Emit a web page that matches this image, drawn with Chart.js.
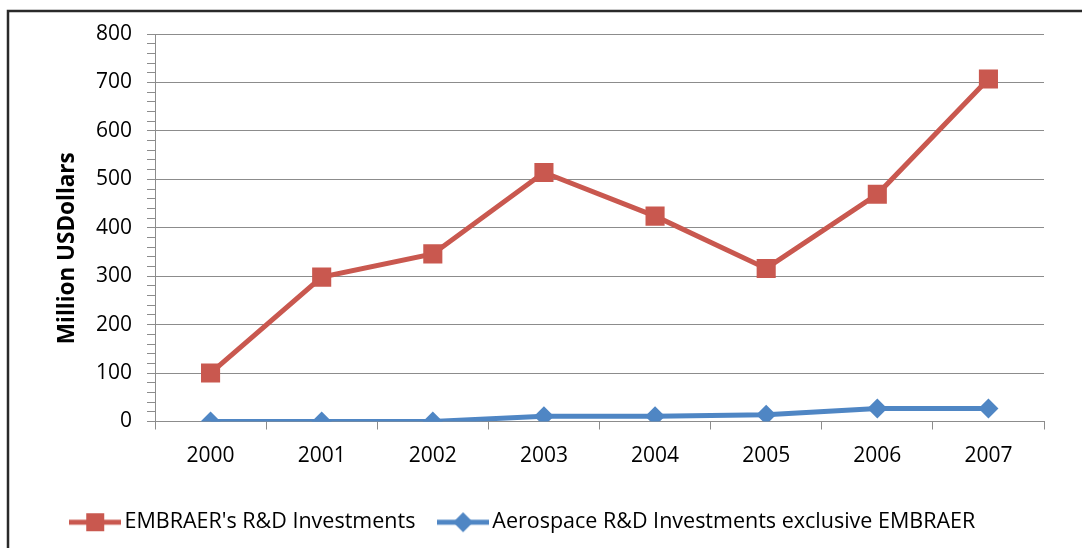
<!DOCTYPE html>
<html>
<head>
<meta charset="utf-8">
<script src="https://cdn.jsdelivr.net/npm/chart.js@4/dist/chart.umd.min.js"></script>
<style>
  html, body { margin: 0; padding: 0; background: #fff; }
  #wrap { width: 1082px; height: 548px; position: relative; }
</style>
</head>
<body>
<div id="wrap"><canvas id="rdChart"></canvas></div>
<script>
// values
const years = ['2000', '2001', '2002', '2003', '2004', '2005', '2006', '2007'];
const embraerRD = [100, 298, 346, 514, 424, 316, 469, 707];
const aerospaceRD = [0, 0, 0, 11, 11, 14, 27, 27];
const seriesNames = ["EMBRAER's R&D Investments", 'Aerospace R&D Investments exclusive EMBRAER'];
const yTitle = 'Million USDollars';

const red = '#C9584F';
const blue = '#4F86C4';
const gridGray = '#8c8c8c';
const fontFamily = "'Open Sans', sans-serif";

// little line + marker pictures for the legend, like the Excel ones
function legendMark(color, shape) {
  const c = document.createElement('canvas');
  c.width = 52;
  c.height = 22;
  const g = c.getContext('2d');
  g.strokeStyle = color;
  g.lineWidth = 5;
  g.beginPath();
  g.moveTo(0, 11);
  g.lineTo(52, 11);
  g.stroke();
  g.fillStyle = color;
  if (shape === 'rect') {
    g.fillRect(17, 2, 18, 18);
  } else {
    g.beginPath();
    g.moveTo(26, 1);
    g.lineTo(36, 11);
    g.lineTo(26, 21);
    g.lineTo(16, 11);
    g.closePath();
    g.fill();
  }
  return c;
}
const legendMarks = [legendMark(red, 'rect'), legendMark(blue, 'diamond')];

// white background plus the cut-off frame on the left and top
const framePlugin = {
  id: 'frame',
  beforeDraw(chart) {
    const ctx = chart.ctx;
    ctx.save();
    ctx.fillStyle = '#fff';
    ctx.fillRect(0, 0, chart.width, chart.height);
    ctx.strokeStyle = '#2a2a2a';
    ctx.lineWidth = 2.5;
    ctx.beginPath();
    ctx.moveTo(8, chart.height);
    ctx.lineTo(8, 11);
    ctx.lineTo(chart.width, 11);
    ctx.stroke();
    ctx.restore();
  }
};

const ctx = document.getElementById('rdChart').getContext('2d');
new Chart(ctx, {
  type: 'line',
  data: {
    labels: years,
    datasets: [
      {
        label: seriesNames[0],
        data: embraerRD,
        borderColor: red,
        backgroundColor: red,
        borderWidth: 5,
        pointStyle: 'rect',
        pointRadius: 13.5,
        pointHoverRadius: 13.5,
        pointBorderWidth: 0,
        tension: 0,
      },
      {
        label: seriesNames[1],
        data: aerospaceRD,
        borderColor: blue,
        backgroundColor: blue,
        borderWidth: 5,
        pointStyle: 'rectRot',
        pointRadius: 10,
        pointHoverRadius: 10,
        pointBorderWidth: 0,
        tension: 0,
      },
    ],
  },
  options: {
    responsive: true,
    maintainAspectRatio: false,
    animation: false,
    devicePixelRatio: 1,
    layout: {
      padding: { left: 8, right: 38, top: 34, bottom: 5 },
    },
    plugins: {
      tooltip: { enabled: false },
      legend: {
        position: 'bottom',
        labels: {
          color: '#000',
          font: { family: fontFamily, size: 21.5 },
          usePointStyle: true,
          pointStyleWidth: 37,
          padding: 18,
          generateLabels(chart) {
            const items = Chart.defaults.plugins.legend.labels.generateLabels(chart);
            items.forEach(function (item, i) {
              item.pointStyle = legendMarks[i];
            });
            // a bit more room between the two entries
            items[0].text = items[0].text + '  ';
            return items;
          },
        },
      },
    },
    scales: {
      x: {
        offset: true,
        grid: {
          offset: true,
          drawOnChartArea: false,
          color: gridGray,
          tickLength: 8,
        },
        border: { color: gridGray, width: 1 },
        ticks: {
          color: '#000',
          font: { family: fontFamily, size: 21 },
          padding: 14,
          maxRotation: 0,
        },
        afterFit(scale) {
          scale.height = 72;
        },
      },
      y: {
        min: 0,
        max: 800,
        grid: {
          color: (c) => (c.tick && c.tick.value % 100 === 0 ? gridGray : 'rgba(0,0,0,0)'),
          tickColor: gridGray,
          tickLength: 8,
        },
        border: { color: gridGray, width: 1 },
        ticks: {
          stepSize: 20,
          autoSkip: false,
          color: '#000',
          font: { family: fontFamily, size: 21 },
          padding: 15,
          callback: (v) => (v % 100 === 0 ? v : ''),
        },
        title: {
          display: true,
          // trailing spaces push the title a little down, as in the original
          text: yTitle + '       ',
          color: '#000',
          font: { family: fontFamily, size: 22.5, weight: 'bold' },
          padding: { top: 46, bottom: 0 },
        },
        afterFit(scale) {
          scale.width = 147;
        },
      },
    },
  },
  plugins: [framePlugin],
});
</script>
</body>
</html>
